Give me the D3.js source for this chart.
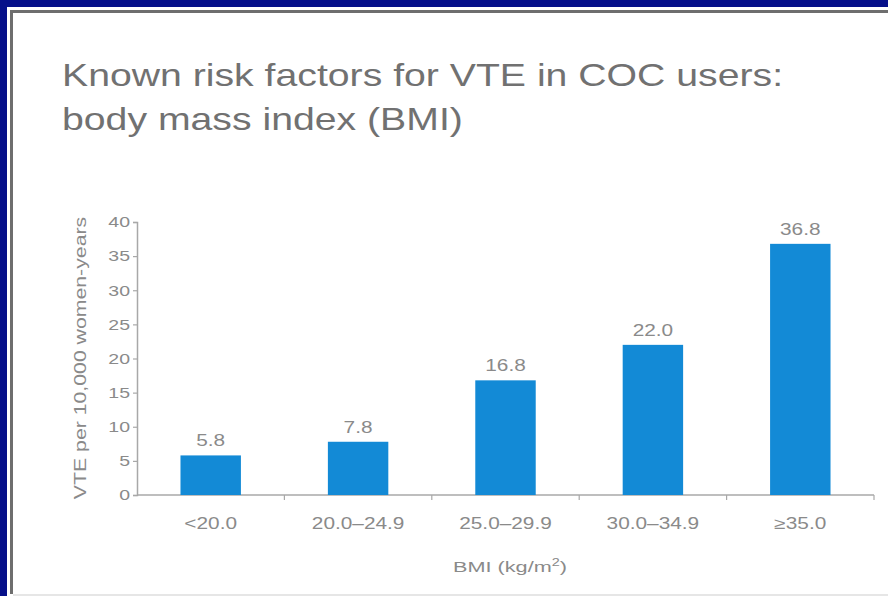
<!DOCTYPE html>
<html>
<head>
<meta charset="utf-8">
<script src="https://cdn.jsdelivr.net/npm/d3@7"></script>
<style>
  html, body { margin: 0; padding: 0; background: #06108a; }
  svg { display: block; }
  text { font-family: "Liberation Sans", Arial, sans-serif; }
</style>
</head>
<body>
<svg id="chart" width="888" height="596"></svg>
<script>
const categories = ["<20.0", "20.0\u201324.9", "25.0\u201329.9", "30.0\u201334.9", "\u226535.0"];
const values = [5.8, 7.8, 16.8, 22.0, 36.8];
const valueLabels = ["5.8", "7.8", "16.8", "22.0", "36.8"];
const yTicks = [0, 5, 10, 15, 20, 25, 30, 35, 40];
const titleLines = ["Known risk factors for VTE in COC users:", "body mass index (BMI)"];
const yTitle = "VTE per 10,000 women-years";

(function () {
const svg = d3.select("#chart");
const W = 888, H = 596;

// horizontal stretch of glyphs (the source picture is wider than its fonts)
function stretch(sel, sx) {
  sel.each(function () {
    const len = this.getComputedTextLength();
    d3.select(this).attr("textLength", len * sx).attr("lengthAdjust", "spacingAndGlyphs");
  });
}

// background and panel
svg.append("rect").attr("x", 0).attr("y", 0).attr("width", W).attr("height", H).attr("fill", "#06108a");
svg.append("rect").attr("x", 7).attr("y", 7).attr("width", W - 7).attr("height", H - 7).attr("fill", "#ffffff");
svg.append("path").attr("d", `M11.5,${H - 2} V11.5 H${W}`).attr("fill", "none").attr("stroke", "#6e6e6e").attr("stroke-width", 3);
svg.append("line").attr("x1", 13).attr("x2", W).attr("y1", H - 1).attr("y2", H - 1).attr("stroke", "#e6e6e6").attr("stroke-width", 2);

// title
titleLines.forEach((t, i) => {
  const tt = svg.append("text").attr("fill", "#717171").attr("font-size", 32)
    .attr("x", 62).attr("y", 86 + i * 44).text(t);
  stretch(tt, 1.225);
});

const pLeft = 137, pRight = 874, pTop = 222, pBottom = 495;

const y = d3.scaleLinear().domain([0, 40]).range([pBottom, pTop]);
const xEdge = d3.scaleBand().domain(categories).range([pLeft, pRight]).padding(0);
const xBar = d3.scaleBand().domain(categories).range([pLeft, pRight]).paddingInner(0.59).paddingOuter(0.295);

const axisColor = "#a8a8a8";
const labelColor = "#8a8a8a";
const SX = 1.3;

// y axis
const yAxis = d3.axisLeft(y).tickValues(yTicks).tickSize(4).tickPadding(3).tickFormat(d3.format("d"));
const gy = svg.append("g").attr("transform", `translate(${pLeft},0)`).call(yAxis);
gy.select(".domain").attr("stroke", axisColor).attr("stroke-width", 1.5);
gy.selectAll(".tick line").attr("stroke", axisColor).attr("stroke-width", 1.2);
gy.selectAll(".tick text").attr("fill", labelColor).attr("font-size", 15).attr("font-family", "Liberation Sans, Arial, sans-serif");
stretch(gy.selectAll(".tick text"), SX);

// x axis (boundary ticks)
const gx = svg.append("g").attr("transform", `translate(0,${pBottom})`);
gx.append("line").attr("x1", pLeft).attr("x2", pRight).attr("stroke", axisColor).attr("stroke-width", 1.5);
const edges = categories.map(c => xEdge(c) + xEdge.bandwidth());
gx.selectAll("line.edge").data(edges).join("line").attr("class", "edge")
  .attr("x1", d => d).attr("x2", d => d).attr("y1", 0).attr("y2", 5)
  .attr("stroke", axisColor).attr("stroke-width", 1.2);
const cat = gx.selectAll("text.cat").data(categories).join("text").attr("class", "cat")
  .attr("x", d => xEdge(d) + xEdge.bandwidth() / 2)
  .attr("y", 34)
  .attr("text-anchor", "middle")
  .attr("fill", labelColor).attr("font-size", 16)
  .text(d => d);
stretch(cat, SX);

// bars
svg.selectAll("rect.bar").data(values).join("rect").attr("class", "bar")
  .attr("x", (d, i) => xBar(categories[i]))
  .attr("width", xBar.bandwidth())
  .attr("y", d => y(d))
  .attr("height", d => pBottom - y(d))
  .attr("fill", "#138ad6");

const vals = svg.selectAll("text.val").data(values).join("text").attr("class", "val")
  .attr("x", (d, i) => xBar(categories[i]) + xBar.bandwidth() / 2)
  .attr("y", d => y(d) - 9)
  .attr("text-anchor", "middle")
  .attr("fill", labelColor).attr("font-size", 16)
  .text((d, i) => valueLabels[i]);
stretch(vals, SX);

// y title
const yt = svg.append("text")
  .attr("transform", `translate(86,358) rotate(-90)`)
  .attr("text-anchor", "middle")
  .attr("fill", labelColor).attr("font-size", 17)
  .text(yTitle);
stretch(yt, 1.25);

// x title
const xt = svg.append("text")
  .attr("x", 510).attr("y", 572)
  .attr("text-anchor", "middle")
  .attr("fill", labelColor).attr("font-size", 15);
xt.append("tspan").text("BMI (kg/m");
xt.append("tspan").attr("font-size", 10).attr("dy", -6).text("2");
xt.append("tspan").attr("dy", 6).text(")");
xt.attr("textLength", 114).attr("lengthAdjust", "spacingAndGlyphs");
})();
</script>
</body>
</html>
